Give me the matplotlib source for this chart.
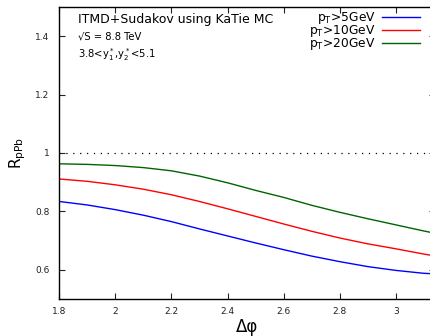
import numpy as np
import matplotlib
matplotlib.use('Agg')
import matplotlib.pyplot as plt

# Data (R_pPb vs delta phi)
dphi = [1.8, 1.9, 2.0, 2.1, 2.2, 2.3, 2.4, 2.5, 2.6, 2.7, 2.8, 2.9, 3.0, 3.1, np.pi]
r_pt5 = [0.834, 0.822, 0.806, 0.787, 0.765, 0.740, 0.716, 0.692, 0.669, 0.647,
         0.628, 0.611, 0.598, 0.588, 0.586]
r_pt10 = [0.911, 0.903, 0.891, 0.876, 0.857, 0.834, 0.809, 0.783, 0.757, 0.732,
          0.709, 0.689, 0.672, 0.654, 0.647]
r_pt20 = [0.963, 0.961, 0.957, 0.950, 0.939, 0.921, 0.898, 0.872, 0.848, 0.821,
          0.797, 0.775, 0.754, 0.733, 0.725]
series_labels = [r'p$_\mathregular{T}$>5GeV', r'p$_\mathregular{T}$>10GeV', r'p$_\mathregular{T}$>20GeV']
series_colors = ['#0000ff', '#ff0000', '#006400']

xticks = [1.8, 2.0, 2.2, 2.4, 2.6, 2.8, 3.0]
xticklabels = ['1.8', '2', '2.2', '2.4', '2.6', '2.8', '3']
yticks = [0.6, 0.8, 1.0, 1.2, 1.4]
yticklabels = ['0.6', '0.8', '1', '1.2', '1.4']

W, H = 431, 336
fig = plt.figure(figsize=(W / 100, H / 100), dpi=100)
# gnuplot-style frame; right border sits just past the image edge
x0, x1, y0, y1 = 59.3, 435.4, 7.0, 299.0
ax = fig.add_axes([x0 / W, 1 - y1 / H, (x1 - x0) / W, (y1 - y0) / H])

ax.axhline(1.0, color='black', lw=0.9, ls=(0, (1, 4.5)))
for ys, lab, col in zip([r_pt5, r_pt10, r_pt20], series_labels, series_colors):
    ax.plot(dphi, ys, color=col, lw=1.0, label=lab)

ax.set_xlim(1.8, np.pi)
ax.set_ylim(0.5, 1.5)
ax.set_xticks(xticks)
ax.set_xticklabels(xticklabels)
ax.set_yticks(yticks)
ax.set_yticklabels(yticklabels)
ax.tick_params(direction='in', length=4.5, width=0.8, top=True, right=True,
               labelsize=6.5, colors='#222222')
ax.tick_params(axis='y', pad=7)
ax.tick_params(axis='x', pad=6)
for s in ax.spines.values():
    s.set_linewidth(1.0)

ax.set_xlabel('\u0394\u03c6', fontsize=12, labelpad=1)
ax.set_ylabel(r'R$_\mathregular{pPb}$', fontsize=11, labelpad=5)

ax.text(78 / W, 1 - 20 / H, 'ITMD+Sudakov using KaTie MC', transform=fig.transFigure,
        fontsize=9.0, va='center', ha='left')
ax.text(78 / W, 1 - 37 / H, '\u221aS = 8.8 TeV', transform=fig.transFigure,
        fontsize=7.2, va='center', ha='left')
ax.text(78 / W, 1 - 55 / H, r'3.8<y$_1^*$,y$_2^*$<5.1', transform=fig.transFigure,
        fontsize=7.2, va='center', ha='left')

ax.legend(loc='upper right', bbox_to_anchor=(420 / W, 1 - 10 / H),
          bbox_transform=fig.transFigure, frameon=False, markerfirst=False,
          fontsize=8.8, handlelength=3.1, handletextpad=0.55, labelspacing=-0.25,
          borderpad=0, borderaxespad=0)

plt.savefig('out.png', dpi=100)
